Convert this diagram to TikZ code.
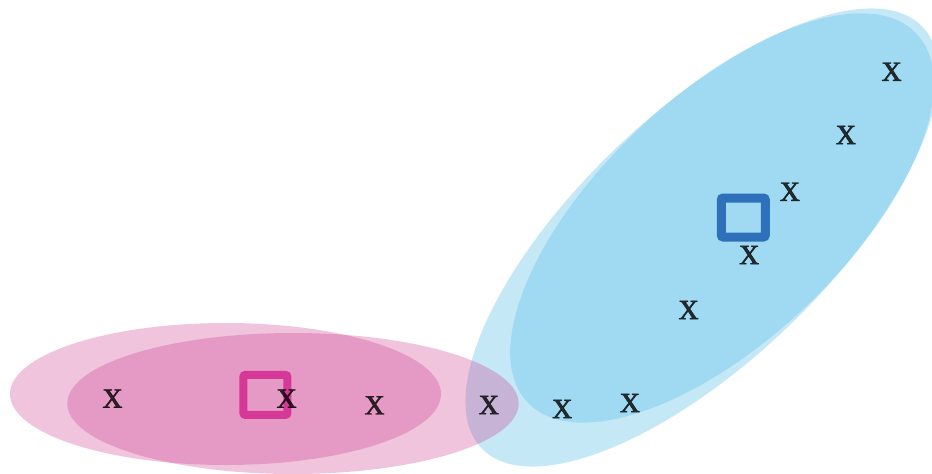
\documentclass[tikz,border=0pt]{standalone}
\usepackage{fontspec}
\setmainfont{Liberation Serif}
\newfontfamily\xfont{Liberation Serif}[FakeBold=0.6]
\definecolor{pinkc}{RGB}{204,63,143}
\definecolor{bluec}{RGB}{95,191,233}
\definecolor{sqpink}{RGB}{214,56,152}
\definecolor{sqblue}{RGB}{46,112,185}
\tikzset{
  pinkblob/.style={fill=pinkc, fill opacity=0.31},
  blueblob/.style={fill=bluec, fill opacity=0.36},
  xmark/.style={font=\xfont\fontsize{40}{40}\selectfont, text=black, text opacity=0.8, inner sep=0pt},
  centroid/.style={draw, rectangle, rounded corners=2pt, fill=none, inner sep=0pt},
}
\begin{document}
\begin{tikzpicture}[x=1pt,y=-1pt]
\useasboundingbox (0,0) rectangle (932,474);
% blue clusters
\fill[blueblob, rotate around={43.7:(702,237.5)}] (702,237.5) ellipse [x radius=305, y radius=124];
\fill[blueblob, rotate around={43.5:(722,218)}] (722,218) ellipse [x radius=268, y radius=122];
% pink clusters
\fill[pinkblob] (225.5,394) ellipse [x radius=215.5, y radius=71];
\fill[pinkblob] (293,403.5) ellipse [x radius=225.7, y radius=70.5];
% centroids
\node[centroid, sqpink, line width=8pt, minimum width=44pt, minimum height=40pt] (cp) at (265.4,394.9) {};
\node[centroid, sqblue, line width=9pt, minimum width=44pt, minimum height=39pt] (cb) at (743.3,217.5) {};
% data points
\node[xmark] (p1) at (112.6,398.6) {x};
\node[xmark] (p2) at (286.7,398.6) {x};
\node[xmark] (p3) at (374.6,405.3) {x};
\node[xmark] (p4) at (489,405) {x};
\node[xmark] (b1) at (562.3,409) {x};
\node[xmark] (b2) at (630,403) {x};
\node[xmark] (b3) at (688.7,310) {x};
\node[xmark] (b4) at (749.3,255) {x};
\node[xmark] (b5) at (790,191.7) {x};
\node[xmark] (b6) at (846,135) {x};
\node[xmark] (b7) at (891.7,71.7) {x};
\end{tikzpicture}
\end{document}
